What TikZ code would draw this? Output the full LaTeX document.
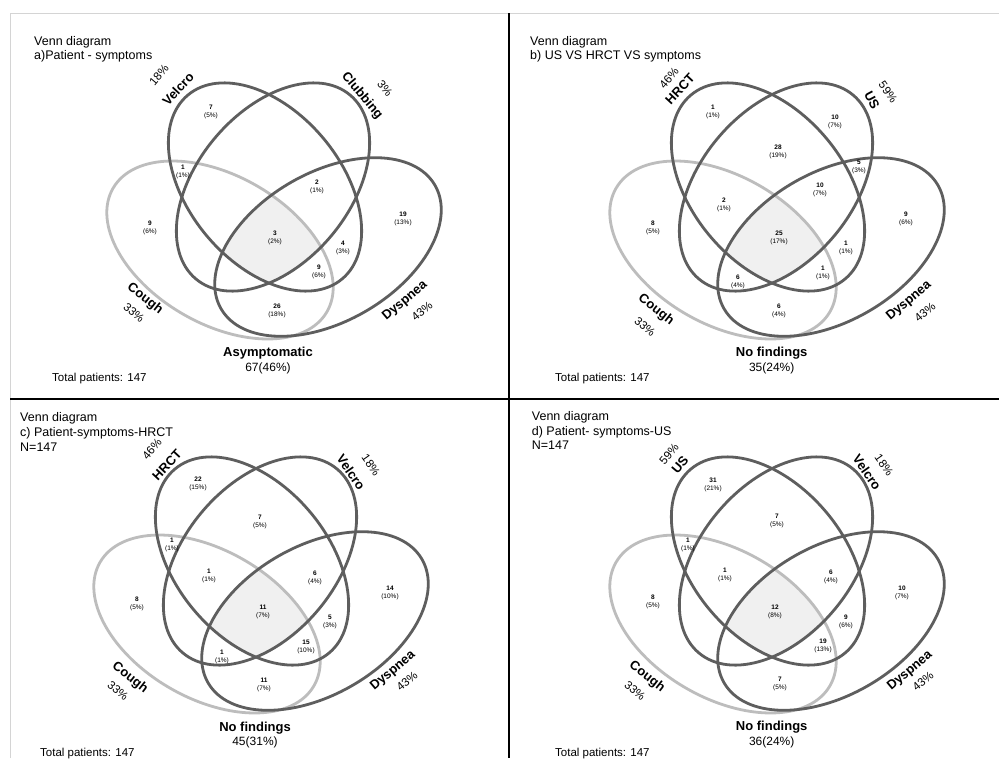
\documentclass[tikz,border=0pt]{standalone}
\usepackage{fontspec}
\setmainfont{Liberation Sans}
\definecolor{darkline}{HTML}{5E5E5E}
\definecolor{lightline}{HTML}{BDBDBD}
\definecolor{centerfill}{HTML}{F0F0F0}
\definecolor{frameline}{HTML}{D4D4D4}
\newcommand\vennshapes{%
  \begin{scope}
    \clip[rotate around={-50:(265,187)}] (265,187) ellipse [x radius=120, y radius=76];
    \clip[rotate around={50:(273,187)}] (273,187) ellipse [x radius=120, y radius=76];
    \clip[rotate around={-30:(220,250)}] (220,250) ellipse [x radius=123.5, y radius=74];
    \clip[rotate around={30:(328,247)}] (328,247) ellipse [x radius=123.5, y radius=74.5];
    \fill[centerfill] (100,50) rectangle (450,350);
  \end{scope}
  \draw[lightring, rotate around={-30:(220,250)}] (220,250) ellipse [x radius=123.5, y radius=74];
  \draw[darkring, rotate around={30:(328,247)}] (328,247) ellipse [x radius=123.5, y radius=74.5];
  \draw[darkring, rotate around={-50:(265,187)}] (265,187) ellipse [x radius=120, y radius=76];
  \draw[darkring, rotate around={50:(273,187)}] (273,187) ellipse [x radius=120, y radius=76];
}
\begin{document}
\begin{tikzpicture}[x=1pt,y=-1pt,
  darkring/.style={draw=darkline, line width=2.8pt},
  lightring/.style={draw=lightline, line width=2.8pt},
  ttl/.style={anchor=base west, inner sep=0pt, font=\fontsize{12.5}{14}\selectfont},
  setlab/.style={inner sep=0pt, font=\fontsize{13}{14}\selectfont\bfseries},
  setpct/.style={inner sep=0pt, font=\fontsize{11.5}{13}\selectfont},
  cnt/.style={inner sep=0pt, align=center, font=\fontsize{6.5}{8}\selectfont},
  big/.style={anchor=base, inner sep=0pt, font=\fontsize{13}{15}\selectfont\bfseries},
  bigsub/.style={anchor=base, inner sep=0pt, font=\fontsize{12}{14}\selectfont},
  total/.style={anchor=base west, inner sep=0pt, font=\fontsize{11.5}{13}\selectfont}]
\useasboundingbox (0,0) rectangle (999,758);
\fill[white] (0,0) rectangle (999,758);
% frame
\draw[frameline, line width=1pt] (10,758) -- (10,13) -- (999,13);
\draw[black, line width=1.6pt] (509,13) -- (509,758);
\draw[black, line width=1.6pt] (10,399) -- (999,399);
% ellipses
\begin{scope}\vennshapes\end{scope}
\begin{scope}[shift={(503,0)}]\vennshapes\end{scope}
\begin{scope}[shift={(-13,374)}]\vennshapes\end{scope}
\begin{scope}[shift={(503,374)}]\vennshapes\end{scope}

% ---------- panel a
\node[ttl] (a-t1) at (34,45) {Venn diagram};
\node[ttl] (a-t2) at (34,59) {a)Patient - symptoms};
\node[setlab, rotate=47] (a-velcro) at (178,89) {Velcro};
\node[setpct, rotate=50] (a-velcro-p) at (159,75) {18\%};
\node[setlab, rotate=-50] (a-club) at (362,96) {Clubbing};
\node[setpct, rotate=-50] (a-club-p) at (385,88) {3\%};
\node[setlab, rotate=-38] (a-cough) at (145,299) {Cough};
\node[setpct, rotate=-40] (a-cough-p) at (134,313) {33\%};
\node[setlab, rotate=40] (a-dysp) at (405,301) {Dyspnea};
\node[setpct, rotate=40] (a-dysp-p) at (422,311) {43\%};
\node[cnt] (a-c1) at (211,112) {\textbf{7}\\(5\%)};
\node[cnt] (a-c2) at (183,172) {\textbf{1}\\(1\%)};
\node[cnt] (a-c3) at (317,187) {\textbf{2}\\(1\%)};
\node[cnt] (a-c4) at (150,228) {\textbf{9}\\(6\%)};
\node[cnt] (a-c5) at (275,238) {\textbf{3}\\(2\%)};
\node[cnt] (a-c6) at (403,219) {\textbf{19}\\(13\%)};
\node[cnt] (a-c7) at (343,248) {\textbf{4}\\(3\%)};
\node[cnt] (a-c8) at (319,272) {\textbf{9}\\(6\%)};
\node[cnt] (a-c9) at (277,311) {\textbf{26}\\(18\%)};
\node[big] (a-none) at (268,356.7) {Asymptomatic};
\node[bigsub] (a-none-n) at (268,371) {67(46\%)};
\node[total] (a-total) at (52,381.7) {Total patients: 147};

% ---------- panel b
\node[ttl] (b-t1) at (530,45) {Venn diagram};
\node[ttl] (b-t2) at (530,59) {b) US VS HRCT VS symptoms};
\node[setlab, rotate=47] (b-hrct) at (680,89) {HRCT};
\node[setpct, rotate=50] (b-hrct-p) at (669,78) {46\%};
\node[setlab, rotate=-62] (b-us) at (872,100) {US};
\node[setpct, rotate=-55] (b-us-p) at (888,92) {59\%};
\node[setlab, rotate=-38] (b-cough) at (656,310) {Cough};
\node[setpct, rotate=-40] (b-cough-p) at (645,327) {33\%};
\node[setlab, rotate=40] (b-dysp) at (909,301) {Dyspnea};
\node[setpct, rotate=40] (b-dysp-p) at (925,312) {43\%};
\node[cnt] (b-c1) at (713,112) {\textbf{1}\\(1\%)};
\node[cnt] (b-c2) at (835,122) {\textbf{10}\\(7\%)};
\node[cnt] (b-c3) at (778,152) {\textbf{28}\\(19\%)};
\node[cnt] (b-c4) at (859,167) {\textbf{5}\\(3\%)};
\node[cnt] (b-c5) at (820,190) {\textbf{10}\\(7\%)};
\node[cnt] (b-c6) at (724,205) {\textbf{2}\\(1\%)};
\node[cnt] (b-c7) at (653,228) {\textbf{8}\\(5\%)};
\node[cnt] (b-c8) at (779,238) {\textbf{25}\\(17\%)};
\node[cnt] (b-c9) at (906,219) {\textbf{9}\\(6\%)};
\node[cnt] (b-c10) at (846,248) {\textbf{1}\\(1\%)};
\node[cnt] (b-c11) at (823,273) {\textbf{1}\\(1\%)};
\node[cnt] (b-c12) at (738,282) {\textbf{6}\\(4\%)};
\node[cnt] (b-c13) at (779,311) {\textbf{6}\\(4\%)};
\node[big] (b-none) at (771.7,356.7) {No findings};
\node[bigsub] (b-none-n) at (771.7,371) {35(24\%)};
\node[total] (b-total) at (555,381.7) {Total patients: 147};

% ---------- panel c
\node[ttl] (c-t1) at (20,421.7) {Venn diagram};
\node[ttl] (c-t2) at (20,436.7) {c) Patient-symptoms-HRCT};
\node[ttl] (c-t3) at (20,451) {N=147};
\node[setlab, rotate=47] (c-hrct) at (167,465) {HRCT};
\node[setpct, rotate=50] (c-hrct-p) at (152,449) {46\%};
\node[setlab, rotate=-55] (c-velcro) at (351,472) {Velcro};
\node[setpct, rotate=-55] (c-velcro-p) at (371,465) {18\%};
\node[setlab, rotate=-38] (c-cough) at (130,678) {Cough};
\node[setpct, rotate=-40] (c-cough-p) at (118,691) {33\%};
\node[setlab, rotate=40] (c-dysp) at (393,671) {Dyspnea};
\node[setpct, rotate=40] (c-dysp-p) at (407,681) {43\%};
\node[cnt] (c-c1) at (198,484) {\textbf{22}\\(15\%)};
\node[cnt] (c-c2) at (260,522) {\textbf{7}\\(5\%)};
\node[cnt] (c-c3) at (172,545) {\textbf{1}\\(1\%)};
\node[cnt] (c-c4) at (209,576) {\textbf{1}\\(1\%)};
\node[cnt] (c-c5) at (315,578) {\textbf{6}\\(4\%)};
\node[cnt] (c-c6) at (137,604) {\textbf{8}\\(5\%)};
\node[cnt] (c-c7) at (263,612) {\textbf{11}\\(7\%)};
\node[cnt] (c-c8) at (390,593) {\textbf{14}\\(10\%)};
\node[cnt] (c-c9) at (330,622) {\textbf{5}\\(3\%)};
\node[cnt] (c-c10) at (306,647) {\textbf{15}\\(10\%)};
\node[cnt] (c-c11) at (222,657) {\textbf{1}\\(1\%)};
\node[cnt] (c-c12) at (264,685) {\textbf{11}\\(7\%)};
\node[big] (c-none) at (255,731) {No findings};
\node[bigsub] (c-none-n) at (255,745) {45(31\%)};
\node[total] (c-total) at (40,756.7) {Total patients: 147};

% ---------- panel d
\node[ttl] (d-t1) at (531.7,420) {Venn diagram};
\node[ttl] (d-t2) at (531.7,435) {d) Patient- symptoms-US};
\node[ttl] (d-t3) at (531.7,449) {N=147};
\node[setlab, rotate=50] (d-us) at (680,465) {US};
\node[setpct, rotate=50] (d-us-p) at (669,454) {59\%};
\node[setlab, rotate=-55] (d-velcro) at (867,472) {Velcro};
\node[setpct, rotate=-55] (d-velcro-p) at (884,465) {18\%};
\node[setlab, rotate=-38] (d-cough) at (647,677) {Cough};
\node[setpct, rotate=-40] (d-cough-p) at (635,691) {33\%};
\node[setlab, rotate=40] (d-dysp) at (910,671) {Dyspnea};
\node[setpct, rotate=40] (d-dysp-p) at (923,681) {43\%};
\node[cnt] (d-c1) at (713,485) {\textbf{31}\\(21\%)};
\node[cnt] (d-c2) at (777,521) {\textbf{7}\\(5\%)};
\node[cnt] (d-c3) at (688,545) {\textbf{1}\\(1\%)};
\node[cnt] (d-c4) at (725,575) {\textbf{1}\\(1\%)};
\node[cnt] (d-c5) at (831,577) {\textbf{6}\\(4\%)};
\node[cnt] (d-c6) at (653,602) {\textbf{8}\\(5\%)};
\node[cnt] (d-c7) at (775,612) {\textbf{12}\\(8\%)};
\node[cnt] (d-c8) at (902,593) {\textbf{10}\\(7\%)};
\node[cnt] (d-c9) at (846,622) {\textbf{9}\\(6\%)};
\node[cnt] (d-c10) at (823,646) {\textbf{19}\\(13\%)};
\node[cnt] (d-c11) at (780,684) {\textbf{7}\\(5\%)};
\node[big] (d-none) at (771.7,730.3) {No findings};
\node[bigsub] (d-none-n) at (771.7,745) {36(24\%)};
\node[total] (d-total) at (555,756) {Total patients: 147};
\end{tikzpicture}
\end{document}
